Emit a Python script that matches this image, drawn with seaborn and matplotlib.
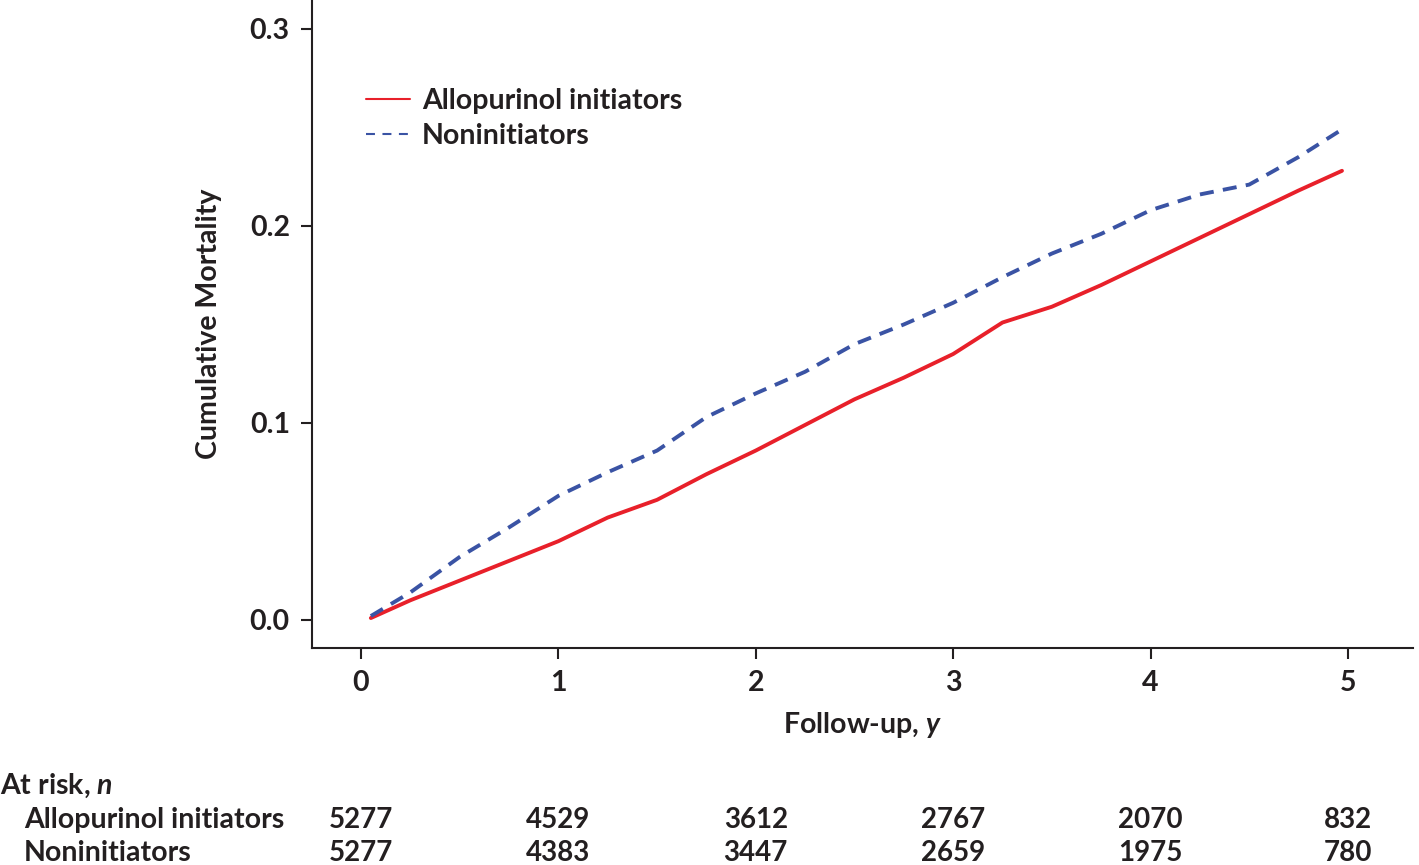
import matplotlib
matplotlib.use('Agg')
import matplotlib.pyplot as plt
import matplotlib.transforms as mtransforms
import seaborn as sns
import pandas as pd

# values
years = [0.05, 0.25, 0.5, 0.75, 1.0, 1.25, 1.5, 1.75, 2.0, 2.25, 2.5,
         2.75, 3.0, 3.25, 3.5, 3.75, 4.0, 4.25, 4.5, 4.75, 4.97]
allo = [0.001, 0.010, 0.020, 0.030, 0.040, 0.052, 0.061, 0.074, 0.086, 0.099, 0.112,
        0.123, 0.135, 0.151, 0.159, 0.170, 0.182, 0.194, 0.206, 0.218, 0.228]
nonin = [0.002, 0.014, 0.032, 0.047, 0.063, 0.075, 0.086, 0.103, 0.115, 0.126, 0.140,
         0.150, 0.161, 0.174, 0.186, 0.196, 0.208, 0.216, 0.221, 0.235, 0.249]

risk_years = [0, 1, 2, 3, 4, 5]
risk_allo = [5277, 4529, 3612, 2767, 2070, 832]
risk_nonin = [5277, 4383, 3447, 2659, 1975, 780]

groups = ['Allopurinol initiators', 'Noninitiators']
colors = {'Allopurinol initiators': '#e8202a', 'Noninitiators': '#3a53a4'}

df = pd.concat([
    pd.DataFrame({'t': years, 'cm': allo, 'group': groups[0]}),
    pd.DataFrame({'t': years, 'cm': nonin, 'group': groups[1]}),
])

sns.set_style('ticks')
plt.rcParams['font.family'] = ['Lato', 'DejaVu Sans']
plt.rcParams['font.weight'] = 'bold'
plt.rcParams['axes.labelweight'] = 'bold'
plt.rcParams['mathtext.fontset'] = 'custom'
plt.rcParams['mathtext.it'] = 'Lato:italic:bold'
plt.rcParams['mathtext.rm'] = 'Lato:bold'
txt = '#231f20'
fs = 20.5

fig = plt.figure(figsize=(14.19, 8.65), dpi=100)
ax = fig.add_axes([0.2199, 0.2509, 0.7759, 0.7491])

sns.lineplot(data=df[df.group == groups[0]], x='t', y='cm', color=colors[groups[0]],
             lw=2.8, ax=ax, label=groups[0])
sns.lineplot(data=df[df.group == groups[1]], x='t', y='cm', color=colors[groups[1]],
             lw=2.8, ax=ax, label=groups[1], dashes=False)
ax.lines[1].set_dashes([3.6, 2.4])

ax.set_xlim(-0.248, 5.33)
ax.set_ylim(-0.0142, 0.3147)
ax.set_xticks([0, 1, 2, 3, 4, 5])
ax.set_yticks([0.0, 0.1, 0.2, 0.3])
ax.set_yticklabels(['0.0', '0.1', '0.2', '0.3'])
for s in ['top', 'right']:
    ax.spines[s].set_visible(False)
for s in ['left', 'bottom']:
    ax.spines[s].set_linewidth(1.5)
    ax.spines[s].set_color(txt)
ax.tick_params(axis='both', length=8, width=1.5, color=txt, labelsize=fs,
               labelcolor=txt, pad=8)
ax.set_xlabel('Follow-up, $\\mathit{y}$', fontsize=fs, color=txt, labelpad=10)
ax.set_ylabel('Cumulative Mortality', fontsize=fs, color=txt, labelpad=20)

leg = ax.legend(loc='upper left', bbox_to_anchor=(0.026, 0.904), frameon=False,
                fontsize=fs, handlelength=1.55, handletextpad=0.4, labelspacing=0.32,
                labelcolor=txt)
lh = leg.get_lines()
for h in lh:
    h.set_linewidth(1.5)
lh[1].set_dashes([4.3, 3.6])

# at-risk table
tr = mtransforms.blended_transform_factory(ax.transData, fig.transFigure)
fig.text(0.0, 1 - 786 / 865, 'At risk, $\\mathit{n}$', fontsize=fs, color=txt, va='center')
for row, (name, vals) in enumerate(zip(groups, [risk_allo, risk_nonin])):
    yy = 1 - (820 + row * 33) / 865
    fig.text(0.017, yy, name, fontsize=fs, color=txt, va='center')
    for t, v in zip(risk_years, vals):
        ax.text(t, yy, str(v), transform=tr, fontsize=20, color=txt,
                va='center', ha='center', clip_on=False)

fig.savefig('out.png', dpi=100)
